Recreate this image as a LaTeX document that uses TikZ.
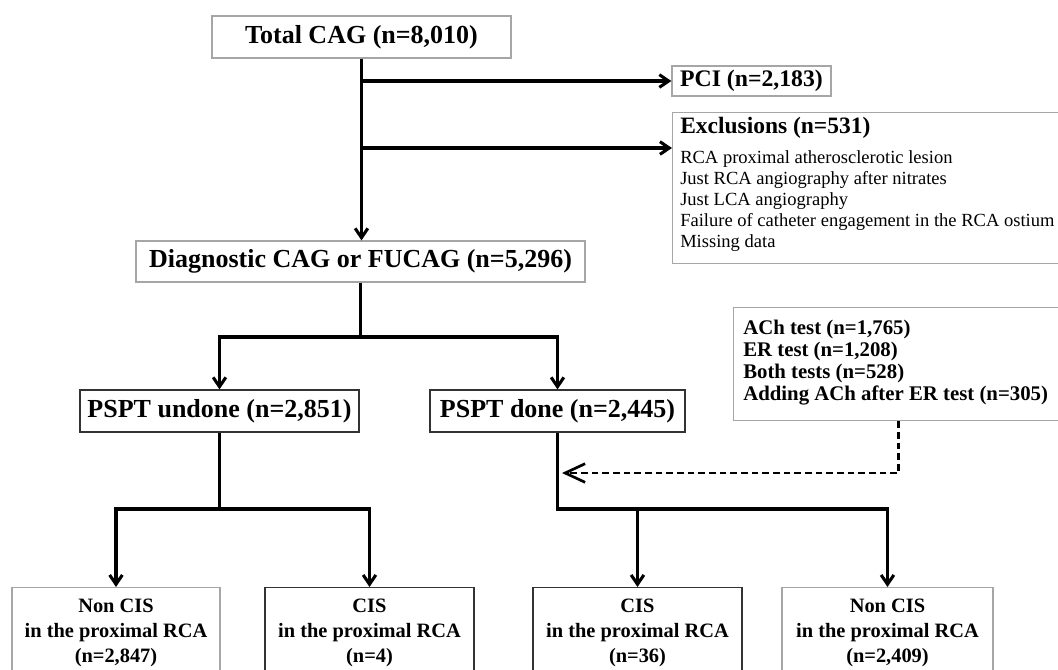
\documentclass[tikz,border=0pt]{standalone}
\usepackage{fontspec}
\setmainfont{Liberation Serif}
\usetikzlibrary{arrows.meta}
\newcommand\pxu{0.75pt}
\newcommand\fmain{\fontsize{19.5}{22}\selectfont\bfseries}
\newcommand\fpci{\fontsize{17.8}{20}\selectfont\bfseries}
\newcommand\fexh{\fontsize{17.6}{20}\selectfont\bfseries}
\newcommand\fexi{\fontsize{13.9}{15.75}\selectfont}
\newcommand\ftest{\fontsize{15.6}{16.5}\selectfont\bfseries}
\newcommand\fbot{\fontsize{15.3}{18.75}\selectfont\bfseries}
\definecolor{boxgray}{HTML}{A6A6A6}
\definecolor{boxdark}{HTML}{333333}
\begin{document}
\begin{tikzpicture}[x=0.75pt,y=-0.75pt,
  graybox/.style={draw=boxgray, line width=0.9pt, inner sep=0pt},
  darkbox/.style={draw=boxdark, line width=0.9pt, inner sep=0pt},
  conn/.style={line width=2.3pt, -{Straight Barb[length=7pt,width=9.5pt]}},
  dashc/.style={line width=2pt, dash pattern=on 5pt off 3pt, -{Straight Barb[length=15pt,width=14pt]}},
  txt/.style={inner sep=0pt, align=left, anchor=north west}]
\useasboundingbox (0,0) rectangle (1058,669);
% top
\node[graybox, minimum width=299*\pxu, minimum height=42*\pxu, font=\fmain] (total) at (361.5,37) {Total CAG (n=8,010)};
\node[graybox, minimum width=159*\pxu, minimum height=30*\pxu, font=\fpci] (pci) at (751.5,81) {PCI (n=2,183)};
\node[graybox, anchor=north west, minimum width=392*\pxu, minimum height=151*\pxu] (excl) at (672,112) {};
\node[txt, font=\fexi] (excltxt) at (680,117) {{\fexh Exclusions (n=531)}\\[6.5pt]
 RCA proximal atherosclerotic lesion\\
 Just RCA angiography after nitrates\\
 Just LCA angiography\\
 Failure of catheter engagement in the RCA ostium\\
 Missing data};
\node[graybox, minimum width=449*\pxu, minimum height=41*\pxu, font=\fmain] (diag) at (360.5,261.5) {Diagnostic CAG or FUCAG (n=5,296)};
% PSPT
\node[darkbox, minimum width=279*\pxu, minimum height=42*\pxu, font=\fmain] (undone) at (219.5,411) {PSPT undone (n=2,851)};
\node[darkbox, minimum width=255*\pxu, minimum height=42*\pxu, font=\fmain] (done) at (557.5,411) {PSPT done (n=2,445)};
\node[graybox, anchor=north west, minimum width=330*\pxu, minimum height=113*\pxu] (tests) at (733,307) {};
\node[txt, font=\ftest] (teststxt) at (743,320) {ACh test (n=1,765)\\ER test (n=1,208)\\Both tests (n=528)\\Adding ACh after ER test (n=305)};
% bottom
\node[graybox, anchor=north, minimum width=208*\pxu, minimum height=90*\pxu, align=center, font=\fbot] (b1) at (116,587) {Non CIS\\in the proximal RCA\\(n=2,847)};
\node[darkbox, anchor=north, minimum width=209*\pxu, minimum height=90*\pxu, align=center, font=\fbot] (b2) at (369.5,587) {CIS\\in the proximal RCA\\(n=4)};
\node[darkbox, anchor=north, minimum width=209*\pxu, minimum height=90*\pxu, align=center, font=\fbot] (b3) at (637.5,587) {CIS\\in the proximal RCA\\(n=36)};
\node[graybox, anchor=north, minimum width=211*\pxu, minimum height=90*\pxu, align=center, font=\fbot] (b4) at (887.5,587) {Non CIS\\in the proximal RCA\\(n=2,409)};
% connectors
\coordinate (exin) at (672,148);
\coordinate (s1) at (360.5,337);
\coordinate (s2) at (219.5,509);
\coordinate (j4) at (887.5,509);
\coordinate (dtip) at (562,473);
\draw[conn] (total.south) -- (total.south |- diag.north);
\draw[conn] (total.south |- pci.west) -- (pci.west);
\draw[conn] (total.south |- exin) -- (exin);
\draw[conn] (diag.south) -- (s1) -| (undone.north);
\draw[conn] (s1) -| (done.north);
\draw[conn] (undone.south) -- (s2) -| (b1.north);
\draw[conn] (s2) -| (b2.north);
\draw[conn] (done.south) |- (j4) -- (b4.north);
\draw[conn] (b3.north |- j4) -- (b3.north);
\draw[dashc] (tests.south) |- (dtip);
\end{tikzpicture}
\end{document}
